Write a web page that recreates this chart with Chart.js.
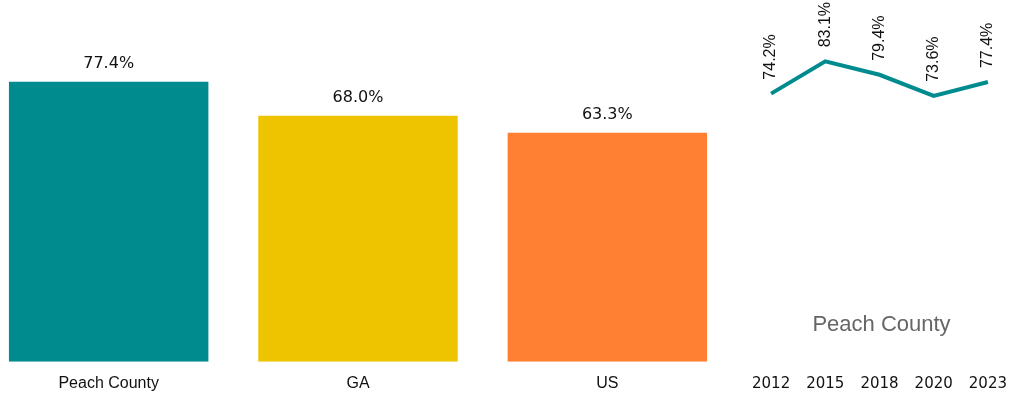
<!DOCTYPE html>
<html>
<head>
<meta charset="utf-8">
<script src="https://cdn.jsdelivr.net/npm/chart.js@4/dist/chart.umd.min.js"></script>
<style>
  html, body { margin: 0; padding: 0; background: #fff; overflow: hidden; }
  body { width: 1015px; height: 393px; position: relative; }
  #barWrap { position: absolute; left: -16px; top: 0; width: 748px; height: 407px; }
  #lineWrap { position: absolute; left: 740px; top: 0; width: 279px; height: 407px; }
</style>
</head>
<body>
<div id="barWrap"><canvas id="barChart"></canvas></div>
<div id="lineWrap"><canvas id="lineChart"></canvas></div>
<script>
const barLabels = ['Peach County', 'GA', 'US'];
const barValues = [77.4, 68.0, 63.3];
const barColors = ['#008B8F', '#EEC400', '#FF8033'];

const years = ['2012', '2015', '2018', '2020', '2023'];
const trendValues = [74.2, 83.1, 79.4, 73.6, 77.4];
const trendName = 'Peach County';

// value labels above bars / points
const valueLabels = {
    id: 'valueLabels',
    afterDatasetsDraw(chart, args, opts) {
        const ctx = chart.ctx;
        const meta = chart.getDatasetMeta(0);
        const data = chart.data.datasets[0].data;
        ctx.save();
        ctx.fillStyle = '#111';
        ctx.font = opts.font;
        meta.data.forEach((el, i) => {
            const txt = data[i].toFixed(1) + '%';
            if (opts.rotate) {
                ctx.save();
                ctx.translate(el.x, el.y - opts.offset);
                ctx.rotate(-Math.PI / 2);
                ctx.textAlign = 'left';
                ctx.textBaseline = 'middle';
                ctx.fillText(txt, 0, 0);
                ctx.restore();
            } else {
                ctx.textAlign = 'center';
                ctx.textBaseline = 'bottom';
                ctx.fillText(txt, el.x, el.y - opts.offset);
            }
        });
        ctx.restore();
    }
};

const nameLabel = {
    id: 'nameLabel',
    afterDraw(chart) {
        const ctx = chart.ctx;
        const a = chart.chartArea;
        ctx.save();
        ctx.fillStyle = '#666';
        ctx.font = '22px "Liberation Sans Narrow", "Liberation Sans", sans-serif';
        ctx.textAlign = 'center';
        ctx.textBaseline = 'middle';
        ctx.fillText(trendName, (a.left + a.right) / 2 + 2, 325);
        ctx.restore();
    }
};

new Chart(document.getElementById('barChart'), {
    type: 'bar',
    data: {
        labels: barLabels,
        datasets: [{
            data: barValues,
            backgroundColor: barColors,
            categoryPercentage: 1,
            barPercentage: 0.8
        }]
    },
    options: {
        responsive: true,
        maintainAspectRatio: false,
        animation: false,
        layout: { padding: { top: 0, bottom: 2, left: 0, right: 0 } },
        plugins: {
            legend: { display: false },
            tooltip: { enabled: false },
            valueLabels: { font: '16px "DejaVu Sans", sans-serif', offset: 10 }
        },
        scales: {
            x: {
                grid: { display: false, drawTicks: false },
                border: { display: false },
                ticks: {
                    color: '#111',
                    padding: 12,
                    font: { family: '"Liberation Sans Narrow", "Liberation Sans", sans-serif', size: 16 }
                }
            },
            y: { display: false, min: 0, max: 100 }
        }
    },
    plugins: [valueLabels]
});

new Chart(document.getElementById('lineChart'), {
    type: 'line',
    data: {
        labels: years,
        datasets: [{
            data: trendValues,
            borderColor: '#008B8F',
            borderWidth: 4,
            pointRadius: 0,
            tension: 0,
            fill: false
        }]
    },
    options: {
        responsive: true,
        maintainAspectRatio: false,
        animation: false,
        layout: { padding: { top: 0, bottom: 2, left: 22, right: 24 } },
        plugins: {
            legend: { display: false },
            tooltip: { enabled: false },
            valueLabels: { font: '16px "Liberation Sans", sans-serif', offset: 14, rotate: true }
        },
        scales: {
            x: {
                offset: false,
                grid: { display: false, drawTicks: false },
                border: { display: false },
                ticks: {
                    color: '#111',
                    padding: 12,
                    maxRotation: 0,
                    autoSkip: false,
                    font: { family: '"DejaVu Sans", sans-serif', size: 15 }
                }
            },
            y: { display: false, min: 0, max: 100 }
        }
    },
    plugins: [valueLabels, nameLabel]
});
</script>
</body>
</html>
